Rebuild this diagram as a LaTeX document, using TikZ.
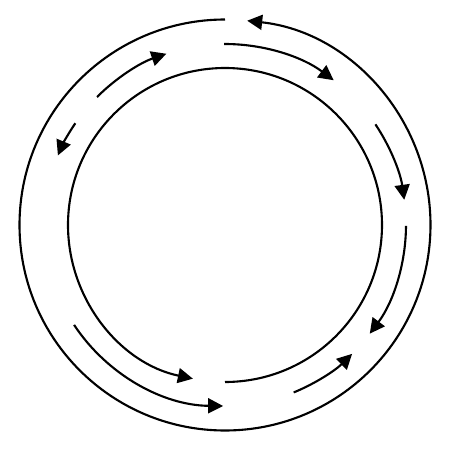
\documentclass[tikz,border=0pt]{standalone}
\usetikzlibrary{arrows.meta}

\begin{document}
\begin{tikzpicture}
  \useasboundingbox (0,0) rectangle (9,9);
  \coordinate (O) at (4.5,4.5);
  \tikzstyle{RingStyle}=[line width=1.2pt,-{Triangle[length=0.3cm,width=0.3cm]}]
  \draw[RingStyle] ([shift={(90:4.11)}]O) arc[start angle=90, end angle=443.8, radius=4.11];
  \draw[RingStyle] ([shift={(-90:3.14)}]O) arc[start angle=-90, end angle=258.2, radius=3.14];
  \foreach \a/\b in {90.3/53.1, 33.8/8, -0.3/-36.9, -67.7/-45.4, 213.5/269.4, 135/108.9, 145.8/157.4}
    \draw[RingStyle] ([shift={(\a:3.62)}]O) arc[start angle=\a, end angle=\b, radius=3.62];
\end{tikzpicture}
\end{document}
